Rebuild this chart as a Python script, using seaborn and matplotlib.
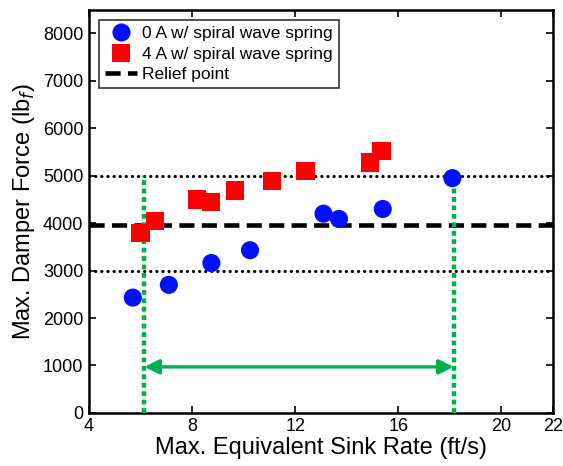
import pandas as pd
import matplotlib
matplotlib.use("Agg")
import matplotlib.pyplot as plt
import seaborn as sns

# --- DATA ---
sink_0A = [5.7, 7.1, 8.75, 10.25, 13.1, 13.7, 15.4, 18.1]
force_0A = [2430, 2700, 3160, 3430, 4200, 4090, 4300, 4950]

sink_4A = [6.0, 6.55, 8.2, 8.75, 9.65, 11.1, 12.4, 14.9, 15.35]
force_4A = [3800, 4040, 4500, 4440, 4690, 4890, 5100, 5280, 5520]

label_0A = "0 A w/ spiral wave spring"
label_4A = "4 A w/ spiral wave spring"
label_relief = "Relief point"

relief_force = 3970
band_forces = [3000, 5000]
window_sinks = [6.15, 18.15]
window_top = 5000
arrow_force = 970

x_ticks = [4, 8, 12, 16, 20, 22]
y_ticks = [0, 1000, 2000, 3000, 4000, 5000, 6000, 7000, 8000]

GREEN = "#00b050"

df = pd.concat([
    pd.DataFrame({"sink": sink_0A, "force": force_0A, "case": label_0A}),
    pd.DataFrame({"sink": sink_4A, "force": force_4A, "case": label_4A}),
], ignore_index=True)

sns.set_style("ticks", {"axes.edgecolor": "black", "text.color": "black",
                        "axes.labelcolor": "black", "xtick.color": "black",
                        "ytick.color": "black"})
plt.rcParams["font.family"] = ["Liberation Sans", "DejaVu Sans"]

fig = plt.figure(figsize=(5.63, 4.66), dpi=100)
ax = fig.add_axes([0.158, 0.114, 0.824, 0.865])

# reference lines
ax.axhline(relief_force, color="black", lw=3.3, linestyle=(0, (3.3, 1.6)),
           label=label_relief, zorder=2)
for f in band_forces:
    ax.axhline(f, color="black", lw=2.2, linestyle=(0, (0.1, 1.9)),
               dash_capstyle="round", zorder=2)

# green operating window
ax.vlines(window_sinks, 0, window_top, color=GREEN, lw=3.2,
          linestyle=(0, (1.1, 0.8)), zorder=3)
ax.annotate("", xy=(window_sinks[0], arrow_force), xytext=(window_sinks[1], arrow_force),
            arrowprops=dict(arrowstyle="<|-|>", color=GREEN, lw=2.4,
                            mutation_scale=22, shrinkA=0, shrinkB=0), zorder=3)

sns.scatterplot(data=df, x="sink", y="force", hue="case", style="case",
                palette={label_0A: "#0010ff", label_4A: "#ff0000"},
                markers={label_0A: "o", label_4A: "s"},
                s=170, linewidth=0, ax=ax, zorder=4)

ax.set_xlim(4, 22)
ax.set_ylim(0, 8500)
ax.set_xticks(x_ticks)
ax.set_yticks(y_ticks)
ax.tick_params(direction="in", top=True, right=True, length=5, width=1.2,
               labelsize=13, pad=4, colors="black")
for s in ax.spines.values():
    s.set_linewidth(1.8)
    s.set_color("black")

ax.set_xlabel("Max. Equivalent Sink Rate (ft/s)", fontsize=17, labelpad=1, color="black")
ax.set_ylabel("Max. Damper Force (lb$_f$)", fontsize=17, labelpad=4, color="black")

handles, labels = ax.get_legend_handles_labels()
order = [labels.index(label_0A), labels.index(label_4A), labels.index(label_relief)]
leg = ax.legend([handles[i] for i in order], [labels[i] for i in order],
                loc="upper left", fontsize=12.5, frameon=True, fancybox=False,
                edgecolor="black", handlelength=1.8, handletextpad=0.3,
                borderpad=0.35, labelspacing=0.3, borderaxespad=0.6,
                markerscale=1.0)
leg.get_frame().set_linewidth(1.2)
for t in leg.get_texts():
    t.set_color("black")

fig.savefig("out.png", dpi=100)
